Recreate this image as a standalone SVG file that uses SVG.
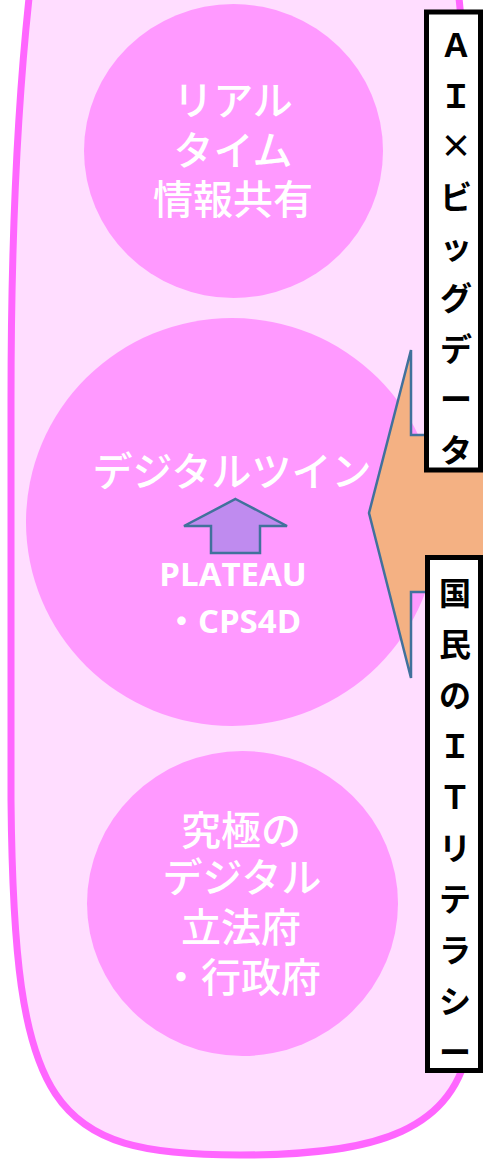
<svg xmlns="http://www.w3.org/2000/svg" width="483" height="1160" viewBox="0 0 483 1160">
<style>
.bg{fill:#FFDDFF;stroke:#FF66FF;stroke-width:7}
.circ{fill:#FF99FF}
.ct{font-family:"Noto Sans CJK JP","Noto Sans",sans-serif;font-size:40px;font-weight:500;fill:#FFFFFF;text-anchor:middle}
.lt{font-family:"Open Sans","Noto Sans CJK JP",sans-serif;font-size:33px;font-weight:bold;fill:#FFFFFF;text-anchor:middle}
.box{fill:#FFFFFF;stroke:#000000;stroke-width:5}
.bt{font-family:"Noto Sans CJK JP",sans-serif;font-size:32px;font-weight:bold;fill:#000000;text-anchor:middle}
.arr{stroke:#41719C;stroke-width:2.5;stroke-linejoin:miter}
</style>
<g id="frame">
<path class="bg" d="M 11 400 L 11 800 C 14 1110 50 1155 240 1155 C 380 1155 455 1130 470 1040 L 477 400 A 70 600 0 0 0 407 -200 L 81 -200 A 70 600 0 0 0 11 400 Z"/>
</g>
<g id="node-realtime">
<ellipse class="circ" cx="233.5" cy="151" rx="149.5" ry="147"/>
<text class="ct" x="233" y="115">リアル</text>
<text class="ct" x="233" y="165">タイム</text>
<text class="ct" x="233" y="214">情報共有</text>
</g>
<g id="node-digitaltwin">
<ellipse class="circ" cx="232" cy="522" rx="206" ry="204"/>
<text class="ct" x="232" y="486">デジタルツイン</text>
<text class="lt" x="233" y="586">PLATEAU</text>
<text class="lt" x="233" y="633">・CPS4D</text>
</g>
<g id="node-government">
<ellipse class="circ" cx="242.5" cy="903.5" rx="155.5" ry="152.5"/>
<text class="ct" x="241" y="845">究極の</text>
<text class="ct" x="242" y="892">デジタル</text>
<text class="ct" x="241" y="942">立法府</text>
<text class="ct" x="241" y="992">・行政府</text>
</g>
<g id="connectors">
<path class="arr" fill="#BF8BEF" d="M 235.5 499 L 287 526 L 260 526 L 260 553 L 211 553 L 211 526 L 184 526 Z"/>
<path class="arr" fill="#F4B183" d="M 369 513 L 411 350 L 411 435 L 500 435 L 500 592 L 411 592 L 411 678 Z"/>
</g>
<g id="node-ai-bigdata">
<rect class="box" x="426.5" y="12" width="54" height="458"/>
<text class="bt" x="456" y="57">Ａ</text>
<text class="bt" x="456" y="108">Ｉ</text>
<text class="bt" x="456" y="158">×</text>
<text class="bt" x="456" y="209">ビ</text>
<text class="bt" x="456" y="259">ッ</text>
<text class="bt" x="456" y="310">グ</text>
<text class="bt" x="456" y="361">デ</text>
<text class="bt" x="456" y="411">ー</text>
<text class="bt" x="456" y="462">タ</text>
</g>
<g id="node-literacy">
<rect class="box" x="427.5" y="557.5" width="53" height="513"/>
<text class="bt" x="455" y="605">国</text>
<text class="bt" x="455" y="656">民</text>
<text class="bt" x="455" y="707">の</text>
<text class="bt" x="455" y="758">Ｉ</text>
<text class="bt" x="455" y="809">Ｔ</text>
<text class="bt" x="455" y="860">リ</text>
<text class="bt" x="455" y="911">テ</text>
<text class="bt" x="455" y="962">ラ</text>
<text class="bt" x="455" y="1013">シ</text>
<text class="bt" x="455" y="1064">ー</text>
</g>
</svg>
